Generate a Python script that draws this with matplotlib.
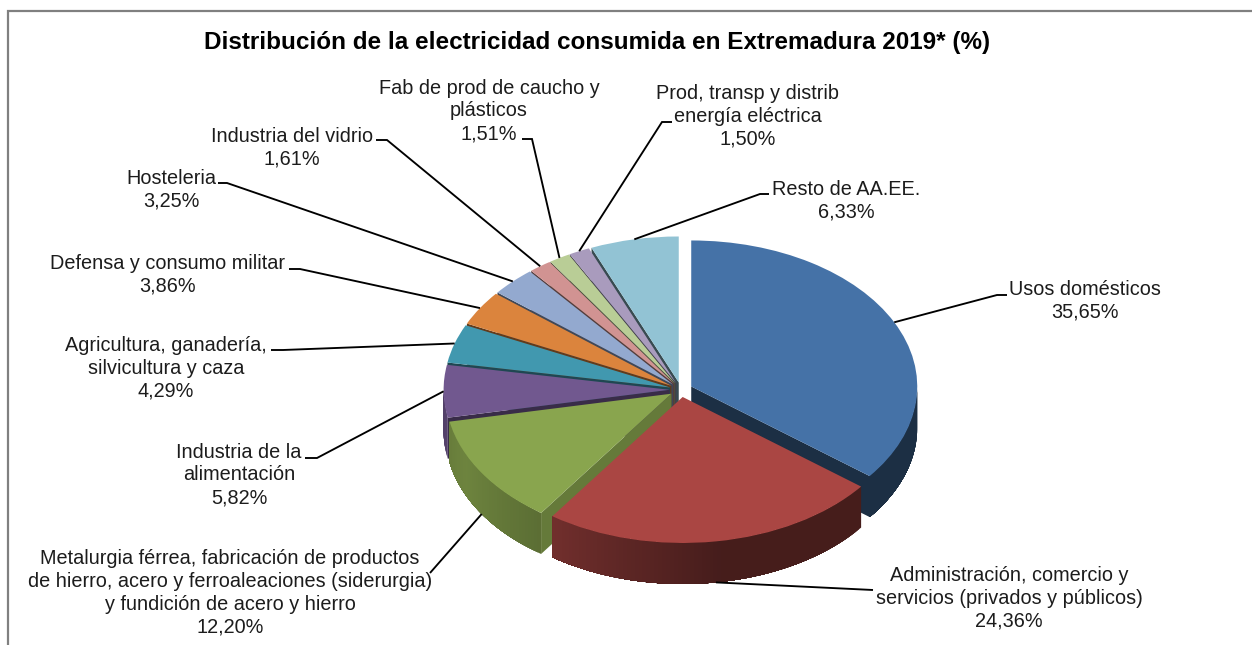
import numpy as np
import matplotlib
matplotlib.use("Agg")
import matplotlib.pyplot as plt
from matplotlib.lines import Line2D

plt.rcParams['font.family'] = ['Liberation Sans', 'DejaVu Sans']

# ---- data ----
title = "Distribución de la electricidad consumida en Extremadura 2019* (%)"
categories = [
    "Usos domésticos",
    "Administración, comercio y\nservicios (privados y públicos)",
    "Metalurgia férrea, fabricación de productos\nde hierro, acero y ferroaleaciones (siderurgia)\ny fundición de acero y hierro",
    "Industria de la\nalimentación",
    "Agricultura, ganadería,\nsilvicultura y caza",
    "Defensa y consumo militar",
    "Hosteleria",
    "Industria del vidrio",
    "Fab de prod de caucho y\nplásticos",
    "Prod, transp y distrib\nenergía eléctrica",
    "Resto de AA.EE.",
]
values = [35.65, 24.36, 12.20, 5.82, 4.29, 3.86, 3.25, 1.61, 1.51, 1.50, 6.33]
value_labels = ["35,65%", "24,36%", "12,20%", "5,82%", "4,29%", "3,86%",
                "3,25%", "1,61%", "1,51%", "1,50%", "6,33%"]

# ---- styles / layout ----
colors = ["#4572A7", "#AA4643", "#89A54E", "#71588F", "#4198AF", "#DB843D",
          "#93A9CF", "#D19392", "#B9CD96", "#A99BBD", "#92C3D4"]
W, H = 1252, 645
CX, CY, RX, RY = 681.0, 389.7, 226.0, 146.0
DEPTH = 41.0 / RY
EXPLODE = 0.0504
label_pos = [(1085, 301), (1009, 598), (230, 593), (239, 475), (166, 368), (168, 275),
             (171, 190), (292, 148), (489, 111), (748, 116), (846, 201)]
leader_elbow = [(997, 295), (873, 590), (430, 573), (317, 458), (283, 350), (300, 269),
                (227, 183), (387, 140), (532, 139), (662, 122), (760, 194)]
leader_end = [(1007, 295), (873, 590), (430, 573), (305, 458), (271, 350), (289, 269),
              (218, 183), (376, 140), (522, 139), (672, 122), (769, 194)]
draw_order = [10, 9, 8, 7, 6, 5, 4, 3, 2, 0, 1]


def px(x, y):
    return (x - CX) / RX, (CY - y) / RY


def shade(col, f):
    r, g, b = matplotlib.colors.to_rgb(col)
    return (r * f, g * f, b * f)


fig = plt.figure(figsize=(W / 100, H / 100), dpi=100, facecolor="white")
ax = fig.add_axes([0, 0, 1, 1])

wedges, _ = ax.pie(values, explode=[EXPLODE] * len(values), startangle=90, counterclock=False,
                   colors=colors, wedgeprops=dict(linewidth=0))
ax.set_aspect("auto")
ax.set_xlim(px(0, 0)[0], px(W, 0)[0])
ax.set_ylim(px(0, H)[1], px(0, 0)[1])
ax.axis("off")

vals = np.array(values, float)
edges = np.concatenate([[0], np.cumsum(vals)]) / vals.sum() * 360.0
mids = 0.5 * (edges[:-1] + edges[1:])
z = 2
for i in draw_order:
    t0, t1, tm = edges[i], edges[i + 1], mids[i]
    ox = EXPLODE * np.sin(np.radians(tm))
    oy = EXPLODE * np.cos(np.radians(tm))
    col = colors[i]

    def face(theta, f):
        r = np.radians(theta)
        xs = [ox, ox + np.sin(r), ox + np.sin(r), ox]
        ys = [oy, oy + np.cos(r), oy + np.cos(r) - DEPTH, oy - DEPTH]
        ax.fill(xs, ys, color=shade(col, f), lw=0, zorder=z)

    if np.sin(np.radians(t0)) < 0:
        face(t0, np.interp(t0, [216, 260, 360], [0.74, 0.50, 0.35]))
    if np.sin(np.radians(t1)) > 0:
        face(t1, 0.41)
    # outer wall, visible on the lower half only; each strip runs on to the end
    # of the slice so that the next one paints over it and no seams show
    a0, a1 = max(t0, 90.0), min(t1, 270.0)
    if a1 > a0:
        th = np.linspace(a0, a1, max(2, int((a1 - a0) / 1.0) + 1))
        for k in range(len(th) - 1):
            arc = np.radians(np.linspace(th[k], a1, 2 + int(a1 - th[k])))
            xs = ox + np.sin(arc)
            ys = oy + np.cos(arc)
            f = np.interp(0.5 * (th[k] + th[k + 1]), [90, 170, 216, 245, 270],
                          [0.41, 0.41, 0.67, 0.80, 0.72])
            ax.fill(np.r_[xs, xs[::-1]], np.r_[ys, ys[::-1] - DEPTH],
                    color=shade(col, f), lw=0, zorder=z)
    wedges[i].set_zorder(z + 0.5)
    z += 1

# leader lines: start on the rim of each slice, at its mid angle
for i, tm in enumerate(mids):
    r = np.radians(tm)
    x0 = (1 + EXPLODE) * np.sin(r)
    y0 = (1 + EXPLODE) * np.cos(r)
    if np.cos(r) < -0.1:
        y0 -= DEPTH
    ex, ey = px(*leader_elbow[i])
    fx, fy = px(*leader_end[i])
    ax.plot([x0, ex, fx], [y0, ey, fy], color="black", lw=1.35, zorder=30,
            solid_joinstyle="miter", solid_capstyle="butt")

for cat, val, (x, y) in zip(categories, value_labels, label_pos):
    fig.text(x / W, 1 - y / H, cat + "\n" + val, ha="center", va="center", ma="center",
             fontsize=14.3, color="#1c1c1c", linespacing=1.26)

fig.text(597 / W, 1 - 43 / H, title, ha="center", va="center", fontsize=17.5,
         fontweight="bold", color="black")

# chart frame (top and left only are inside the crop)
fig.add_artist(Line2D([8 / W, 8 / W, 1], [0, 1 - 11 / H, 1 - 11 / H], color="#808080", lw=1.6,
                      solid_joinstyle="miter"))

fig.savefig("out.png", dpi=100)
